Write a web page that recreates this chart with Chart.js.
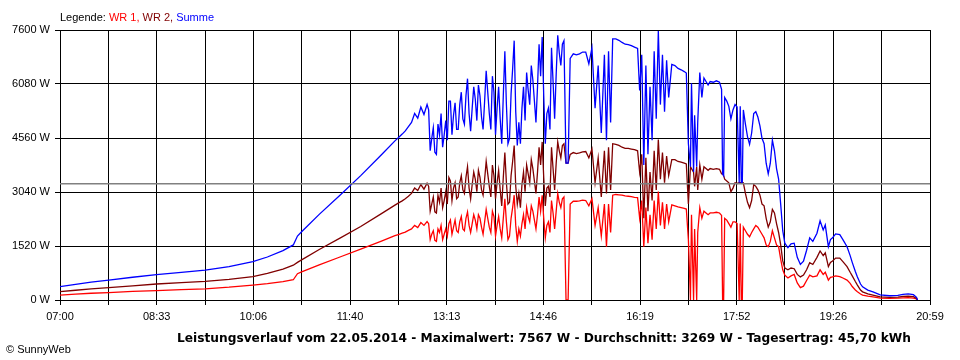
<!DOCTYPE html>
<html>
<head>
<meta charset="utf-8">
<script src="https://cdn.jsdelivr.net/npm/chart.js@4.4.1/dist/chart.umd.min.js"></script>
<style>
  html, body { margin: 0; padding: 0; background: #fff; }
  #wrap { width: 960px; height: 360px; }
</style>
</head>
<body>
<div id="wrap"><canvas id="chart-power" width="960" height="360"></canvas></div>
<script>
// minutes after 07:00
const times = [
  0, 15, 30, 47, 70, 93, 117, 140, 163, 186, 200, 215, 225, 229, 233, 250, 270, 290, 310, 323,
  327, 330, 333, 336, 339, 342, 345, 348, 351, 354,
  355.5, 357, 358.5, 360, 361.5, 363, 364.5, 366, 367.5, 369, 370.5, 372, 373.5, 375, 376.5, 378, 379.5, 381, 382.5, 384,
  385.5, 387, 388.5, 390, 391.5, 393, 394.5, 396, 397.5, 399, 400.5, 402, 403.5, 405, 406.5, 408, 409.5, 411, 412.5, 414,
  415.5, 417, 418.5, 420, 421.5, 423, 424.5, 426, 427.5, 429, 430.5, 432, 433.5, 435, 436.5, 438, 439.5, 441, 442.5, 444,
  445.5, 447, 448.5, 450, 451.5, 453, 454.5, 456, 457.5, 459, 460.5, 462, 463.5, 465, 466.5, 468, 469.5, 471, 472.5, 474,
  475.5, 477, 478.5, 480, 481.5, 483, 484.5, 486,
  488, 490, 492, 495, 498, 501, 504, 507, 510, 513, 516, 519, 522, 525,
  527, 529, 531, 533, 536, 539, 542, 545, 548, 551, 554, 557, 559, 561, 563, 565, 567, 569, 571, 573,
  575, 577, 579, 581, 583, 585, 587, 590, 593, 596, 599, 602, 604, 606, 608, 609, 611, 612, 614, 615,
  617, 619, 621, 623, 625, 627,
  630, 633, 636, 638, 639, 640, 641, 643, 645, 647, 649, 651, 653, 655, 656, 657, 658, 659, 661, 663,
  665, 667, 669, 671, 673, 675, 677, 679, 681, 683, 685, 687, 689, 691, 693, 695, 697, 699, 702, 705,
  708, 711, 714, 717, 720, 723, 726,
  730, 733, 736, 738, 741, 743, 745, 748, 752, 755, 759, 762, 764, 767, 769, 772, 774, 779, 784, 791,
  800, 808, 813, 818, 823, 826, 827
];

// WR 1 (W)
const wr1 = [
  140, 165, 190, 210, 240, 265, 290, 315, 360, 420, 460, 520, 570, 740, 790, 990, 1210, 1430, 1660, 1810,
  1850, 1880, 1910, 1960, 2000, 2100, 2040, 2180, 2100, 2210,
  2150, 1700, 1850, 1950, 1680, 1650, 2000, 1900, 2100, 1700, 1850, 2000, 1800, 2150, 2250, 1850, 2050, 2250, 1950, 1900,
  2200, 2350, 2000, 1950, 2300, 2480, 2100, 1900, 2150, 2400, 2250, 2000, 2400, 2300, 2050, 1850, 2200, 2550, 2300, 2050,
  1900, 2500, 2350, 1800, 2100, 2350, 2000, 1750, 2300, 2850, 2200, 1700, 1800, 2300, 2600, 2950, 2100, 1650, 2000, 1800,
  2150, 2400, 2000, 2600, 2350, 2200, 2650, 2500, 2250, 2000, 2400, 2900, 2500, 2950, 2300, 1750, 2100, 2200, 1900, 2800,
  2450, 2000, 2500, 3000, 2750, 2600, 2850, 2900,
  0, 0, 2700, 2780, 2780, 2790, 2810, 2800, 2650, 2850, 2100, 2600, 1800, 2700,
  1500, 2700, 1900, 2950, 2970, 2960, 2950, 2930, 2920, 2910, 2890, 2880, 2300, 2800, 1500, 2600, 1600, 2400, 1700, 2800,
  2000, 3050, 2100, 2750, 2000, 2700, 2200, 2680, 2650, 2620, 2600, 2580, 2560, 1700, 0, 2400, 0, 2000, 0, 1900,
  2600, 2300, 2500, 2450, 2400, 2450,
  2450, 2470, 2450, 2380, 0, 0, 2300, 2250, 2150, 2050, 2200, 2200, 2150, 0, 2150, 0, 0, 2050, 1950, 1850,
  1780, 1900, 2000, 2100, 2050, 1950, 1850, 1750, 1550, 1500, 1650, 1950, 1750, 1550, 1500, 1150, 850, 700, 620, 680,
  720, 480, 350, 390, 550, 700, 650,
  680, 850, 720, 780, 560, 640, 650, 680, 660, 620, 560, 470, 380, 280, 230, 170, 140, 110, 90, 55,
  45, 50, 60, 65, 55, 30, 0
];

// WR 2 (W)
const wr2 = [
  235, 275, 315, 350, 400, 450, 490, 525, 580, 660, 750, 870, 980, 1060, 1130, 1420, 1740, 2070, 2430, 2670,
  2740, 2790, 2850, 2920, 3000, 3150, 3080, 3250, 3120, 3290,
  3200, 2500, 2700, 2900, 2480, 2450, 2950, 2750, 3150, 2600, 2800, 3050, 2700, 3450, 3350, 2800, 3150, 3300, 2850, 2900,
  3300, 3500, 3100, 3000, 3450, 3750, 3150, 2850, 3250, 3600, 3400, 3050, 3650, 3450, 3100, 2950, 3400, 3900, 3550, 3200,
  2900, 3800, 3500, 2850, 3300, 3650, 3100, 2650, 3450, 4150, 3300, 2700, 2750, 3500, 3900, 4350, 3200, 2700, 3000, 2600,
  3250, 3600, 3050, 3800, 3550, 3300, 3950, 3700, 3350, 3000, 3600, 4300, 3800, 4450, 3450, 2650, 3150, 3200, 2900, 4300,
  3700, 3100, 3850, 4450, 4200, 4000, 4350, 4400,
  3850, 3850, 4100, 4150, 4120, 4140, 4170, 4180, 4000, 4250, 3300, 4000, 2900, 4200,
  3000, 4300, 3100, 4400, 4380, 4350, 4300, 4270, 4270, 4250, 4230, 4200, 3600, 4100, 2300, 4000, 2500, 3600, 2800, 4200,
  3100, 4520, 3400, 4150, 3300, 4050, 3500, 3950, 3950, 3900, 3880, 3850, 3830, 2700, 3750, 3700, 3600, 3200, 3750, 3100,
  3800, 3400, 3750, 3700, 3650, 3700,
  3680, 3700, 3680, 3550, 3550, 3500, 3400, 3350, 3300, 3050, 3150, 3300, 3280, 3300, 3300, 3300, 3320, 3300, 3000, 2750,
  2600, 2800, 3250, 3200, 3100, 2950, 2700, 2650, 2300, 2050, 2200, 2550, 2450, 2150, 1900, 1550, 1100, 900, 850, 900,
  880, 720, 650, 700, 850, 1050, 1000,
  1200, 1380, 1250, 1330, 940, 1060, 1100, 1180, 1180, 1080, 940, 780, 680, 520, 420, 280, 230, 170, 140, 90,
  75, 80, 100, 105, 95, 45, 0
];

// Summe = WR 1 + WR 2
const summe = wr1.map((value, i) => value + wr2[i]);

const average = 3269;
const xTickLabels = ['07:00', '08:33', '10:06', '11:40', '13:13', '14:46', '16:19', '17:52', '19:26', '20:59'];
const yMax = 7600;
const yStep = 1520;
const xMax = 839;
const xDivisions = 18;

const legendParts = [
  { text: 'Legende: ', color: '#000000' },
  { text: 'WR 1, ', color: '#ff0000' },
  { text: 'WR 2, ', color: '#800000' },
  { text: 'Summe', color: '#0000ff' },
];
const titleText = 'Leistungsverlauf vom 22.05.2014 - Maximalwert: 7567 W - Durchschnitt: 3269 W - Tagesertrag: 45,70 kWh';
const copyrightText = '\u00a9 SunnyWeb';

const FONT = "'Liberation Sans', Arial, sans-serif";

function toPoints(values) {
  return values.map((value, i) => ({ x: times[i], y: value }));
}

const textPlugin = {
  id: 'sunnyText',
  afterDraw(chart) {
    const ctx = chart.ctx;
    ctx.save();
    ctx.textBaseline = 'alphabetic';
    ctx.font = `11px ${FONT}`;
    let x = 60;
    legendParts.forEach(part => {
      ctx.fillStyle = part.color;
      ctx.textAlign = 'left';
      ctx.fillText(part.text, x, 21);
      x += ctx.measureText(part.text).width;
    });

    // bold footer line, stretched to the width it has in the original (x 177..911)
    ctx.font = `bold 12px 'DejaVu Sans', ${FONT}`;
    ctx.fillStyle = '#000';
    ctx.textAlign = 'left';
    const titleWidth = ctx.measureText(titleText).width;
    ctx.save();
    ctx.translate(177, 342);
    ctx.scale(734 / titleWidth, 1);
    ctx.fillText(titleText, 0, 0);
    ctx.restore();

    ctx.font = `11px ${FONT}`;
    ctx.textAlign = 'left';
    ctx.fillText(copyrightText, 6, 353);
    ctx.restore();
  },
};

const ctx = document.getElementById('chart-power').getContext('2d');
new Chart(ctx, {
  type: 'line',
  data: {
    datasets: [
      {
        label: 'Durchschnitt',
        data: [{ x: 0, y: average }, { x: xMax, y: average }],
        borderColor: '#808080',
        borderWidth: 1.5,
      },
      {
        label: 'Summe',
        data: toPoints(summe),
        borderColor: '#0000ff',
        borderWidth: 1.3,
      },
      {
        label: 'WR 2',
        data: toPoints(wr2),
        borderColor: '#800000',
        borderWidth: 1.3,
      },
      {
        label: 'WR 1',
        data: toPoints(wr1),
        borderColor: '#ff0000',
        borderWidth: 1.3,
      },
    ],
  },
  options: {
    responsive: false,
    animation: false,
    layout: { padding: { top: 30, right: 30, bottom: 0, left: 0 } },
    elements: {
      point: { radius: 0 },
      line: { tension: 0, fill: false },
    },
    plugins: {
      legend: { display: false },
      tooltip: { enabled: false },
    },
    scales: {
      x: {
        type: 'linear',
        min: 0,
        max: xMax,
        afterFit: scale => { scale.height = 60; },
        afterBuildTicks: scale => {
          const ticks = [];
          for (let i = 0; i <= xDivisions; i++) ticks.push({ value: i * xMax / xDivisions });
          scale.ticks = ticks;
        },
        border: { display: true, color: '#000' },
        grid: { color: '#000', lineWidth: 1, tickLength: 5, drawTicks: true },
        ticks: {
          autoSkip: false,
          maxRotation: 0,
          padding: 5,
          color: '#000',
          font: { family: FONT, size: 11 },
          callback: (value, index) => (index % 2 === 0 ? xTickLabels[index / 2] : ''),
        },
      },
      y: {
        min: 0,
        max: yMax,
        afterFit: scale => { scale.width = 60; },
        border: { display: true, color: '#000' },
        grid: { color: '#000', lineWidth: 1, tickLength: 5, drawTicks: true },
        ticks: {
          stepSize: yStep,
          padding: 5,
          color: '#000',
          font: { family: FONT, size: 11 },
          callback: value => `${value} W`,
        },
      },
    },
  },
  plugins: [textPlugin],
});
</script>
</body>
</html>
